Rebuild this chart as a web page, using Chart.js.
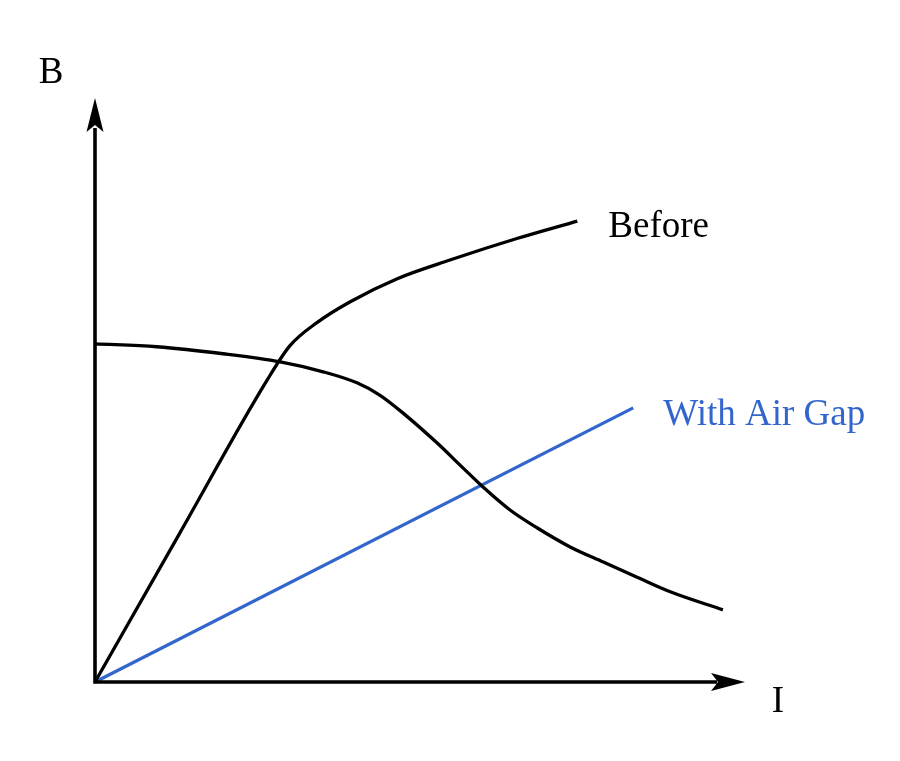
<!DOCTYPE html>
<html>
<head>
<meta charset="utf-8">
<script src="https://cdn.jsdelivr.net/npm/chart.js@4/dist/chart.umd.min.js"></script>
<style>
html,body{margin:0;padding:0;background:#fff;}
canvas{display:block;}
</style>
</head>
<body>
<canvas id="c" width="900" height="761"></canvas>
<script>
// Current I (x) and flux density B (y), arbitrary units 0..10
const beforeX = [0, 1.30, 2.65, 3.00, 3.42, 3.92, 4.65, 5.46, 6.49, 7.42];
const beforeY = [0, 2.55, 5.19, 5.78, 6.18, 6.53, 6.93, 7.25, 7.62, 7.92];

const dropX = [0, 0.95, 1.97, 2.85, 3.51, 4.03, 4.38, 4.74, 5.26, 5.66, 5.97, 6.38, 6.80, 7.31, 7.82, 8.34, 8.85, 9.66];
const dropY = [5.81, 5.76, 5.64, 5.50, 5.33, 5.14, 4.93, 4.62, 4.11, 3.68, 3.35, 2.96, 2.65, 2.32, 2.06, 1.80, 1.55, 1.24];

const gapX = [0, 8.28];
const gapY = [0, 4.71];

const seriesNames = ["Before", "", "With Air Gap"];
const axisNames = ["I", "B"];

const BLUE = "rgb(51,102,204)";
const pts = (xs, ys) => xs.map((x, i) => ({x: x, y: ys[i]}));

const overlay = {
  id: "overlay",
  afterDatasetsDraw(chart) {
    const ctx = chart.ctx;
    const xs = chart.scales.x, ys = chart.scales.y;
    const ox = xs.getPixelForValue(0), oy = ys.getPixelForValue(0);
    const xe = xs.getPixelForValue(xs.max), ye = ys.getPixelForValue(ys.max);
    ctx.save();
    ctx.strokeStyle = "#000";
    ctx.fillStyle = "#000";
    ctx.lineWidth = 3.6;
    ctx.lineCap = "butt";
    // axes
    ctx.beginPath();
    ctx.moveTo(ox, oy + 1.8); ctx.lineTo(ox, ye + 28);
    ctx.moveTo(ox - 1.8, oy); ctx.lineTo(xe - 28, oy);
    ctx.stroke();
    // y arrow
    ctx.beginPath();
    ctx.moveTo(ox, ye - 2);
    ctx.lineTo(ox + 8.5, ye + 32);
    ctx.lineTo(ox, ye + 25);
    ctx.lineTo(ox - 8.5, ye + 32);
    ctx.closePath(); ctx.fill();
    // x arrow
    ctx.beginPath();
    ctx.moveTo(xe, oy);
    ctx.lineTo(xe - 34, oy - 9);
    ctx.lineTo(xe - 27, oy);
    ctx.lineTo(xe - 34, oy + 9);
    ctx.closePath(); ctx.fill();

    ctx.font = "37px 'Liberation Serif', 'Times New Roman', serif";
    ctx.textBaseline = "middle";
    ctx.textAlign = "center";
    ctx.fillText(axisNames[1], ox - 44, ye - 27);
    ctx.fillText(axisNames[0], xe + 33, oy + 20);

    ctx.textAlign = "left";
    const b = chart.getDatasetMeta(0).data;
    const bl = b[b.length - 1];
    ctx.fillText(seriesNames[0], bl.x + 31, bl.y + 6);
    const g = chart.getDatasetMeta(2).data;
    const gl = g[g.length - 1];
    ctx.fillStyle = BLUE;
    ctx.fillText(seriesNames[2], gl.x + 30, gl.y + 7);
    ctx.restore();
  }
};

const common = {pointRadius: 0, fill: false, clip: false, borderWidth: 3.3, cubicInterpolationMode: "monotone", borderJoinStyle: "round"};

new Chart(document.getElementById("c"), {
  type: "line",
  data: {
    datasets: [
      Object.assign({label: seriesNames[0], data: pts(beforeX, beforeY), borderColor: "#000"}, common),
      Object.assign({label: "falling", data: pts(dropX, dropY), borderColor: "#000"}, common),
      Object.assign({label: seriesNames[2], data: pts(gapX, gapY), borderColor: BLUE}, common, {cubicInterpolationMode: "default", tension: 0})
    ]
  },
  options: {
    responsive: false,
    animation: false,
    layout: {padding: {left: 95, right: 155, top: 100, bottom: 79}},
    plugins: {legend: {display: false}, tooltip: {enabled: false}, title: {display: false}},
    scales: {
      x: {type: "linear", min: 0, max: 10, display: false},
      y: {type: "linear", min: 0, max: 10, display: false}
    }
  },
  plugins: [overlay]
});
</script>
</body>
</html>
